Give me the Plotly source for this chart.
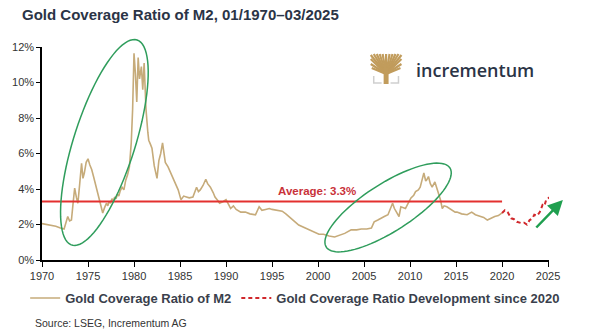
import numpy as np
import plotly.graph_objects as go

# ---------------- data ----------------
years_gold = [1970.0, 1970.5, 1971.0, 1971.5, 1972.0, 1972.4, 1972.6, 1972.8, 1973.0, 1973.2,
              1973.4, 1973.55, 1973.75, 1973.9, 1974.1, 1974.3, 1974.45, 1974.6, 1974.8, 1975.0,
              1975.2, 1975.4, 1975.6, 1975.8, 1976.0, 1976.2, 1976.4, 1976.6, 1976.8, 1977.0,
              1977.15, 1977.3, 1977.45, 1977.6, 1977.75, 1977.9, 1978.05, 1978.2, 1978.35, 1978.5,
              1978.7, 1978.9, 1979.1, 1979.3, 1979.5,
              1979.7, 1979.85, 1980.0, 1980.15, 1980.3, 1980.45, 1980.6, 1980.8, 1980.95, 1981.1,
              1981.3, 1981.5, 1981.6, 1981.8, 1981.95, 1982.2, 1982.35, 1982.5, 1982.7, 1982.9,
              1983.1, 1983.25, 1983.4, 1983.7, 1984.0, 1984.3, 1984.6, 1984.8, 1985.1, 1985.4,
              1985.7, 1986.0, 1986.4, 1986.8, 1987.0, 1987.2, 1987.5, 1987.8, 1988.0, 1988.3,
              1988.6, 1988.8, 1989.1, 1989.3, 1989.7, 1990.0, 1990.3, 1990.5, 1990.8, 1991.1,
              1991.6, 1992.1, 1992.6, 1993.2, 1993.6, 1993.9, 1994.3, 1994.7, 1995.0, 1995.5,
              1996.1, 1996.5, 1997.0, 1997.5, 1997.9, 1998.4, 1999.0, 1999.6, 2000.1, 2000.6,
              2001.2, 2001.8, 2002.3, 2002.9, 2003.6, 2004.2, 2004.7, 2005.3, 2005.8, 2006.1,
              2006.5, 2006.8, 2007.2, 2007.6, 2007.9, 2008.1, 2008.3, 2008.5, 2008.8, 2009.0,
              2009.3, 2009.5, 2009.8, 2010.1, 2010.4, 2010.6, 2010.9, 2011.1, 2011.3, 2011.5,
              2011.7, 2011.8, 2012.0, 2012.2, 2012.4, 2012.7, 2013.0, 2013.3, 2013.5, 2013.7,
              2014.0, 2014.4, 2014.9, 2015.1, 2015.6, 2016.2, 2016.7, 2017.1, 2017.6, 2018.0,
              2018.4, 2018.8, 2019.2, 2019.6, 2019.9, 2020.0]
ratio_gold = [2.05, 2.0, 1.95, 1.9, 1.8, 1.75, 2.1, 2.45, 2.2, 2.25,
              3.3, 4.05, 3.5, 3.2, 4.3, 5.45, 4.6, 4.9, 5.5, 5.7,
              5.35, 5.1, 4.7, 4.3, 3.9, 3.4, 3.1, 2.65, 2.95, 3.2,
              3.05, 3.3, 3.2, 3.45, 3.35, 3.55, 3.45, 3.7, 3.6, 3.9,
              4.1, 3.95, 4.5, 4.8, 5.25,
              6.6, 8.5, 11.65, 10.5, 8.9, 11.4, 10.2, 10.9, 9.6, 11.1,
              8.5, 7.2, 6.75, 6.5, 6.3, 5.3, 4.9, 4.6, 5.6, 6.0,
              6.6, 5.9, 5.5, 5.25, 4.9, 4.6, 4.2, 3.95, 3.4, 3.6,
              3.55, 3.5, 3.55, 4.1, 3.85, 3.95, 4.2, 4.55, 4.3, 4.1,
              3.8, 3.55, 3.35, 3.2, 3.3, 3.4, 3.1, 2.9, 3.05, 2.85,
              2.7, 2.7, 2.6, 2.55, 3.0, 2.8, 2.85, 2.9, 2.85, 2.8,
              2.75, 2.6, 2.35, 2.15, 1.97, 1.85, 1.7, 1.6, 1.45, 1.45,
              1.35, 1.3, 1.4, 1.5, 1.7, 1.7, 1.75, 1.75, 1.8, 2.15,
              2.25, 2.35, 2.45, 2.55, 2.9, 3.2, 2.9, 2.7, 2.45, 3.0,
              2.95, 2.9, 3.2, 3.5, 3.65, 3.85, 3.95, 4.1, 4.5, 4.9,
              4.45, 4.5, 4.7, 4.3, 4.1, 4.4, 3.9, 3.4, 2.9, 3.05,
              3.0, 2.85, 2.7, 2.7, 2.6, 2.55, 2.7, 2.55, 2.45, 2.4,
              2.25, 2.35, 2.45, 2.5, 2.65, 2.65]

years_dev = [2020.0, 2020.3, 2020.6, 2021.0, 2021.3, 2021.6, 2022.1, 2022.4, 2022.7, 2023.0,
             2023.3, 2023.5, 2023.8, 2024.1, 2024.4, 2024.6, 2024.8, 2025.2]
ratio_dev = [2.65, 2.8, 2.7, 2.35, 2.3, 2.15, 2.08, 2.1, 2.0, 2.25,
             2.35, 2.55, 2.5, 2.7, 3.1, 3.05, 3.4, 3.55]

average_value = 3.3
average_span = [1970, 2020]
x_ticks = [1970, 1975, 1980, 1985, 1990, 1995, 2000, 2005, 2010, 2015, 2020, 2025]
y_ticks = [0, 2, 4, 6, 8, 10, 12]

# ---------------- layout geometry ----------------
W, H = 605, 336
L, R, T, B = 37, 56, 47, 76
X0, X1 = 1970, 2025.1
Y0, Y1 = 0, 12
pw, ph = W - L - R, H - T - B


def px2data(px, py):
    return X0 + (px - L) / pw * (X1 - X0), Y0 + (T + ph - py) / ph * (Y1 - Y0)


def px2paper(px, py):
    return (px - L) / pw, (T + ph - py) / ph


def ellipse_path(p1, p2, b, n=90):
    # ellipse whose major axis runs between pixel points p1, p2; semi-minor b px (paper refs)
    cx, cy = (p1[0] + p2[0]) / 2, (p1[1] + p2[1]) / 2
    a = np.hypot(p2[0] - p1[0], p2[1] - p1[1]) / 2
    ang = np.arctan2(p2[1] - p1[1], p2[0] - p1[0])
    t = np.linspace(0, 2 * np.pi, n)
    xs = cx + a * np.cos(t) * np.cos(ang) - b * np.sin(t) * np.sin(ang)
    ys = cy + a * np.cos(t) * np.sin(ang) + b * np.sin(t) * np.cos(ang)
    pts = [px2paper(x, y) for x, y in zip(xs, ys)]
    return "M " + " L ".join(f"{x:.5f},{y:.5f}" for x, y in pts) + " Z"


GOLD = "#c6ab7a"
RED = "#e3302f"
GREEN = "#2f9d5c"
NAVY = "#2b3446"
TEXT = "#3a3f4c"

fig = go.Figure()
fig.add_trace(go.Scatter(x=years_gold, y=ratio_gold, mode="lines",
                         line=dict(color=GOLD, width=1.6),
                         name="Gold Coverage Ratio of M2"))
fig.add_trace(go.Scatter(x=years_dev, y=ratio_dev, mode="lines",
                         line=dict(color="#d0282c", width=2, dash="4px,3px"),
                         name="Gold Coverage Ratio Development since 2020"))

shapes = []
# average line
shapes.append(dict(type="line", xref="x", yref="y", x0=average_span[0], x1=average_span[1],
                   y0=average_value, y1=average_value, line=dict(color=RED, width=2)))
# ellipses
shapes.append(dict(type="path", xref="paper", yref="paper",
                   path=ellipse_path((67, 245), (133, 40), 31),
                   line=dict(color=GREEN, width=1.5)))
shapes.append(dict(type="path", xref="paper", yref="paper",
                   path=ellipse_path((324, 247), (449, 168), 24),
                   line=dict(color=GREEN, width=1.5)))

# logo tree icon (decoration, paper coordinates)
tree_gold = "#c19c5c"
bx, by = 384.5, 74
for tx, ty in [(369, 55), (372, 54), (375, 54), (378, 54), (381, 54), (384.5, 54), (388, 54),
               (391, 54), (394, 54), (397, 54), (400, 55), (369, 59), (400, 59), (369, 64),
               (400, 64), (370, 68), (399, 68)]:
    x0p, y0p = px2paper(bx, by)
    x1p, y1p = px2paper(tx, ty)
    shapes.append(dict(type="line", xref="paper", yref="paper", x0=x0p, y0=y0p, x1=x1p, y1=y1p,
                       line=dict(color=tree_gold, width=2.2)))
x0p, y0p = px2paper(382, 68)
x1p, y1p = px2paper(387, 84)
shapes.append(dict(type="rect", xref="paper", yref="paper", x0=x0p, y0=y0p, x1=x1p, y1=y1p,
                   fillcolor=tree_gold, line=dict(width=0)))
for (ax_, ay_), (bx_, by_), (cx_, cy_) in [((372, 76), (372, 83), (380, 83)),
                                          ((397, 76), (397, 83), (389, 83))]:
    p = [px2paper(*q) for q in [(ax_, ay_), (bx_, by_), (cx_, cy_)]]
    shapes.append(dict(type="path", xref="paper", yref="paper",
                       path=f"M {p[0][0]},{p[0][1]} L {p[1][0]},{p[1][1]} L {p[2][0]},{p[2][1]}",
                       line=dict(color="#cfcfcf", width=1.5)))

annotations = []
tx, ty = px2data(315, 191)
annotations.append(dict(x=tx, y=ty, xref="x", yref="y", xanchor="center", yanchor="middle",
                        text="<b>Average: 3.3%</b>", showarrow=False,
                        font=dict(family="Liberation Sans, Arial", size=11.5, color="#c9323a")))
# arrow
hx, hy = px2paper(563, 200)
annotations.append(dict(x=hx, y=hy, xref="paper", yref="paper", ax=-28, ay=29,
                        axref="pixel", ayref="pixel", text="", showarrow=True,
                        arrowhead=2, arrowsize=1.2, arrowwidth=2.5, arrowcolor="#1f9f4f"))
# logo text
lx, ly = px2paper(474, 70)
annotations.append(dict(x=lx, y=ly, xref="paper", yref="paper", xanchor="center",
                        yanchor="middle", text="incrementum", showarrow=False,
                        font=dict(family="Open Sans", size=18, color=NAVY, weight=600)))
# source
sx, sy = px2paper(28, 323)
annotations.append(dict(x=sx, y=sy, xref="paper", yref="paper", xanchor="left",
                        yanchor="middle", text="Source: LSEG, Incrementum AG", showarrow=False,
                        font=dict(family="Liberation Sans, Arial", size=10.5, color="#333333")))

lgx, lgy = px2paper(20, 298)
fig.update_layout(
    width=W, height=H,
    margin=dict(l=L, r=R, t=T, b=B),
    paper_bgcolor="white", plot_bgcolor="white",
    title=dict(text="<b>Gold Coverage Ratio of M2, 01/1970–03/2025</b>", x=22 / W, xanchor="left",
               y=1 - 15 / H, yanchor="middle", xref="container",
               font=dict(family="Liberation Sans, Arial", size=15, color=NAVY)),
    xaxis=dict(range=[X0, X1], tickvals=x_ticks, showgrid=False, zeroline=False,
               showline=True, linecolor="black", linewidth=1.5, ticks="outside", ticklen=5,
               tickcolor="black", tickfont=dict(family="Liberation Sans, Arial", size=11,
                                               color="#333333")),
    yaxis=dict(range=[Y0, Y1], tickvals=y_ticks, ticktext=[f"{v}%" for v in y_ticks],
               showgrid=False, zeroline=False, showline=True, linecolor="black", linewidth=1.5,
               ticks="outside", ticklen=4, tickcolor="black",
               tickfont=dict(family="Liberation Sans, Arial", size=11, color="#333333")),
    legend=dict(orientation="h", x=lgx, y=lgy, xanchor="left", yanchor="middle",
                font=dict(family="Liberation Sans, Arial", size=13, color=TEXT, weight="bold"),
                bgcolor="rgba(0,0,0,0)", itemwidth=30),
    shapes=shapes, annotations=annotations,
)

fig.write_html("out.html")
